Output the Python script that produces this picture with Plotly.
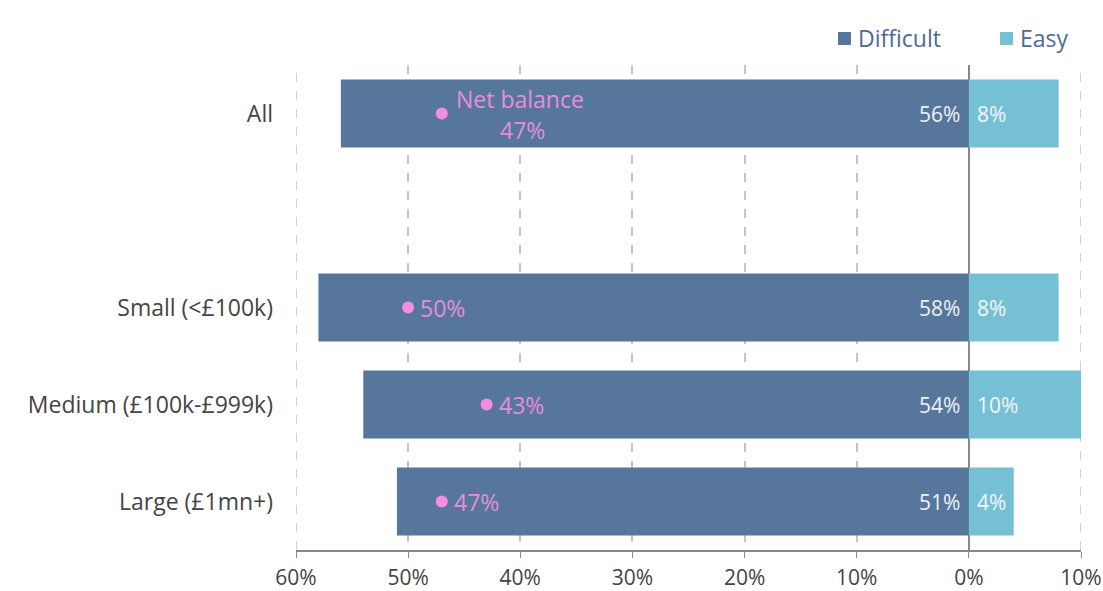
import plotly.graph_objects as go

# Survey results: share of businesses finding conditions difficult vs easy
categories = ["All", "Small (<£100k)", "Medium (£100k-£999k)", "Large (£1mn+)"]
difficult = [56, 58, 54, 51]
easy = [8, 8, 10, 4]
net_balance = [47, 50, 43, 47]
series_names = ["Difficult", "Easy"]

tick_vals = [-60, -50, -40, -30, -20, -10, 0, 10]
tick_text = ["60%", "50%", "40%", "30%", "20%", "10%", "0%", "10%"]

# blank slot between "All" and the size bands
spacer = " "
cat_order = [categories[3], categories[2], categories[1], spacer, categories[0]]

FONT = "Open Sans"
C_DIFF = "#57769c"
C_EASY = "#76c0d5"
C_NET = "#f48ee3"
C_NET_TXT = "#e58fd8"
C_GRID = "#c4c4c4"
C_LEGEND = "#4d6b95"

fig = go.Figure()

fig.add_trace(go.Bar(
    y=categories, x=[-v for v in difficult], orientation="h",
    name=series_names[0], marker=dict(color=C_DIFF, line=dict(width=0)),
    width=0.7, hoverinfo="skip", showlegend=False,
))
fig.add_trace(go.Bar(
    y=categories, x=easy, orientation="h",
    name=series_names[1], marker=dict(color=C_EASY, line=dict(width=0)),
    width=0.7, hoverinfo="skip", showlegend=False,
))
fig.add_trace(go.Scatter(
    y=categories, x=[-v for v in net_balance], mode="markers",
    marker=dict(color=C_NET, size=12), showlegend=False, hoverinfo="skip",
))

# value labels next to the zero line
for cat, d, e in zip(categories, difficult, easy):
    fig.add_annotation(x=0, y=cat, text=f"{d}%", showarrow=False,
                       xanchor="right", xshift=-7,
                       font=dict(family=FONT, size=21, color="#eef1f6"))
    fig.add_annotation(x=0, y=cat, text=f"{e}%", showarrow=False,
                       xanchor="left", xshift=6,
                       font=dict(family=FONT, size=21, color="#f2f8fb"))

# net balance labels
for i, (cat, n) in enumerate(zip(categories, net_balance)):
    if i == 0:
        fig.add_annotation(x=-n, y=cat, text="Net balance", showarrow=False,
                           xanchor="left", xshift=12, yshift=15,
                           font=dict(family=FONT, size=23, color=C_NET_TXT))
        fig.add_annotation(x=-n, y=cat, text=f"{n}%", showarrow=False,
                           xanchor="center", xshift=81, yshift=-16,
                           font=dict(family=FONT, size=23, color=C_NET_TXT))
    else:
        fig.add_annotation(x=-n, y=cat, text=f"{n}%", showarrow=False,
                           xanchor="left", xshift=10,
                           font=dict(family=FONT, size=23, color=C_NET_TXT))

# dashed guides on the two outer ticks, which sit on the plot edges
for xv in (tick_vals[0], tick_vals[-1]):
    fig.add_shape(type="line", xref="x", yref="paper", x0=xv, x1=xv, y0=0, y1=1,
                  line=dict(color=C_GRID, width=1.5, dash="dash"), layer="below")

# legend: small squares with labels, top right
legend_items = [(series_names[0], C_DIFF, 838), (series_names[1], C_EASY, 1000)]
for name, color, px in legend_items:
    fig.add_shape(type="rect", xref="paper", yref="paper",
                  x0=(px - 296) / 785, x1=(px + 13 - 296) / 785,
                  y0=(591 - 41 - 45) / 485, y1=(591 - 41 - 32) / 485,
                  fillcolor=color, line=dict(width=0))
    fig.add_annotation(xref="paper", yref="paper",
                       x=(px + 18 - 296) / 785, y=(591 - 41 - 38) / 485,
                       text=name, showarrow=False, xanchor="left", yanchor="middle",
                       font=dict(family=FONT, size=23, color=C_LEGEND))

fig.update_layout(
    width=1103, height=591,
    margin=dict(l=296, r=22, t=65, b=41),
    paper_bgcolor="white", plot_bgcolor="white",
    barmode="relative", bargap=0.3,
    font=dict(family=FONT, color="#444444"),
    showlegend=False,
    xaxis=dict(
        range=[-60, 10], tickvals=tick_vals, ticktext=tick_text,
        showgrid=True, gridcolor=C_GRID, griddash="dash", gridwidth=1.5,
        zeroline=True, zerolinecolor="#888888", zerolinewidth=1.5,
        showline=True, linecolor="#888888", linewidth=1.5,
        ticks="outside", ticklen=6, tickcolor="#888888",
        ticklabelstandoff=2, automargin=False,
        tickfont=dict(family=FONT, size=21, color="#444444"),
        fixedrange=True,
    ),
    yaxis=dict(
        type="category", categoryorder="array", categoryarray=cat_order,
        range=[-0.5, 4.5], showgrid=False, zeroline=False, showline=False,
        ticks="", ticklabelstandoff=22, automargin=False,
        tickfont=dict(family=FONT, size=23, color="#444444"),
        fixedrange=True,
    ),
)

fig.write_html("out.html")
